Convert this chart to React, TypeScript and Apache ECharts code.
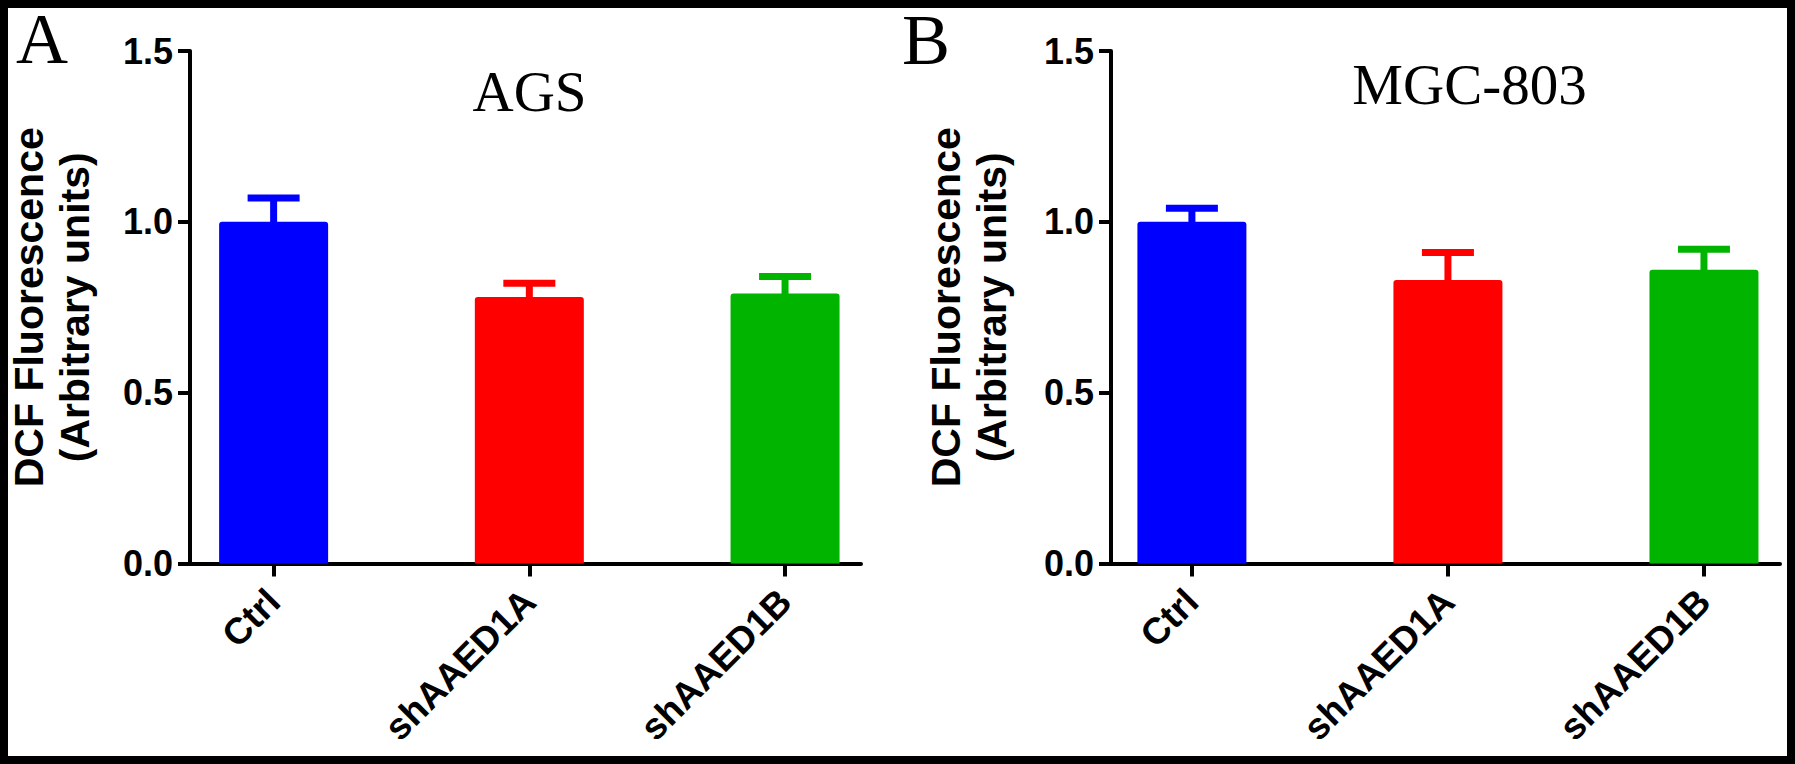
import React, { useEffect, useRef } from 'react';
import * as echarts from 'echarts';

// groups and colours shared by both panels
const categories = ['Ctrl', 'shAAED1A', 'shAAED1B'];
const barColors = ['#0000FF', '#FF0000', '#00B400'];

// panel A: AGS (mean, mean + error)
const agsMean = [1.0, 0.78, 0.79];
const agsUpper = [1.07, 0.82, 0.84];

// panel B: MGC-803
const mgcMean = [1.0, 0.83, 0.86];
const mgcUpper = [1.04, 0.91, 0.92];

const yTicks = [0, 0.5, 1.0, 1.5];
const panelTitles = ['AGS', 'MGC-803'];
const panelLetters = ['A', 'B'];
const yName = 'DCF Fluorescence\n(Arbitrary units)';

const SANS = '"Liberation Sans", Arial, sans-serif';
const SERIF = '"Liberation Serif", "Times New Roman", serif';

const App: React.FC = () => {
  const chartRef = useRef<HTMLDivElement>(null);

  useEffect(() => {
    if (!chartRef.current) return;
    const chart = echarts.init(chartRef.current, undefined, { renderer: 'svg' });

    const xIdx = categories.map((_, i) => i);
    const xRange = [
      { min: -0.327, max: 2.297 },
      { min: -0.316, max: 2.297 },
    ];
    const nameGaps = [92, 96];

    const xAxis = xRange.map((r, g) => ({
      gridIndex: g,
      type: 'value',
      min: r.min,
      max: r.max,
      axisLine: { show: true, onZero: false, lineStyle: { color: '#000', width: 4 } },
      axisTick: { show: true, customValues: xIdx, length: 13, lineStyle: { color: '#000', width: 4 } },
      axisLabel: {
        customValues: xIdx,
        formatter: (v: number) => categories[Math.round(v)],
        rotate: 45,
        margin: 32,
        fontSize: 37,
        fontWeight: 'bold',
        color: '#000',
        fontFamily: SANS,
      },
      splitLine: { show: false },
    }));

    const yAxis = nameGaps.map((gap, g) => ({
      gridIndex: g,
      type: 'value',
      min: yTicks[0],
      max: yTicks[yTicks.length - 1],
      interval: yTicks[1] - yTicks[0],
      name: yName,
      nameLocation: 'middle',
      nameGap: gap,
      nameTextStyle: {
        fontSize: 41,
        fontWeight: 'bold',
        color: '#000',
        fontFamily: SANS,
        lineHeight: 46,
      },
      axisLine: { show: true, onZero: false, lineStyle: { color: '#000', width: 4 } },
      axisTick: { show: true, length: 12, lineStyle: { color: '#000', width: 4 } },
      axisLabel: {
        formatter: (v: number) => v.toFixed(1),
        margin: 17,
        fontSize: 36,
        fontWeight: 'bold',
        color: '#000',
        fontFamily: SANS,
      },
      splitLine: { show: false },
    }));

    const panels = [
      { mean: agsMean, upper: agsUpper },
      { mean: mgcMean, upper: mgcUpper },
    ];

    const series: any[] = [];
    panels.forEach((p, g) => {
      series.push({
        type: 'bar',
        xAxisIndex: g,
        yAxisIndex: g,
        barWidth: 109,
        data: p.mean.map((v, i) => ({
          value: [i, v],
          itemStyle: { color: barColors[i], borderRadius: [3, 3, 0, 0] },
        })),
      });
      // upper error bars
      series.push({
        type: 'custom',
        xAxisIndex: g,
        yAxisIndex: g,
        z: 3,
        data: p.mean.map((v, i) => [i, v, p.upper[i]]),
        encode: { x: 0, y: [1, 2] },
        renderItem: (params: any, api: any) => {
          const base = api.coord([api.value(0), api.value(1)]);
          const top = api.coord([api.value(0), api.value(2)]);
          const color = barColors[params.dataIndex];
          return {
            type: 'group',
            children: [
              {
                type: 'line',
                shape: { x1: base[0], y1: base[1] + 2, x2: top[0], y2: top[1] },
                style: { stroke: color, lineWidth: 7 },
              },
              {
                type: 'line',
                shape: { x1: top[0] - 26, y1: top[1], x2: top[0] + 26, y2: top[1] },
                style: { stroke: color, lineWidth: 7 },
              },
            ],
          };
        },
      });
    });

    chart.setOption({
      animation: false,
      backgroundColor: '#fff',
      grid: [
        { left: 190, top: 51, width: 671, height: 512.5 },
        { left: 1111, top: 51, width: 669, height: 512.5 },
      ],
      xAxis,
      yAxis,
      series,
      graphic: [
        {
          type: 'rect',
          shape: { x: 4, y: 4, width: 1787, height: 756 },
          style: { fill: 'none', stroke: '#000', lineWidth: 8 },
          z: 100,
        },
        {
          type: 'text',
          x: 16,
          y: 39,
          style: { text: panelLetters[0], font: `72px ${SERIF}`, fill: '#000', verticalAlign: 'middle' },
        },
        {
          type: 'text',
          x: 902,
          y: 40,
          style: { text: panelLetters[1], font: `72px ${SERIF}`, fill: '#000', verticalAlign: 'middle' },
        },
        {
          type: 'text',
          x: 529.5,
          y: 91,
          style: { text: panelTitles[0], font: `57px ${SERIF}`, fill: '#000', align: 'center', verticalAlign: 'middle' },
        },
        {
          type: 'text',
          x: 1469.5,
          y: 84,
          style: { text: panelTitles[1], font: `57px ${SERIF}`, fill: '#000', align: 'center', verticalAlign: 'middle' },
        },
      ],
    });

    return () => {
      chart.dispose();
    };
  }, []);

  return (
    <div
      ref={chartRef}
      style={{ position: 'fixed', left: 0, top: 0, width: 1795, height: 764, background: '#fff' }}
    />
  );
};

export default App;
